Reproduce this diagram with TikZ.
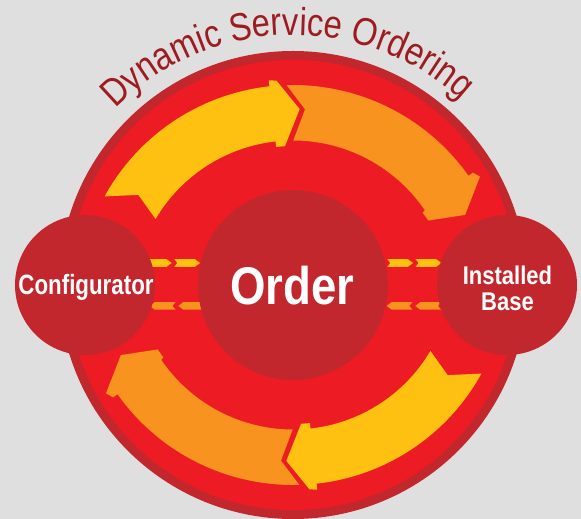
\documentclass[tikz,border=0pt]{standalone}
\usepackage{fontspec}
\usepackage{tikz}
\usetikzlibrary{positioning}
\usetikzlibrary{decorations.text}
\setmainfont{Liberation Sans}
\newfontfamily\titlefont[FakeStretch=0.84]{Liberation Sans}
\newfontfamily\hubfont[FakeStretch=0.86]{Liberation Sans}
\newfontfamily\conffont[FakeStretch=0.80]{Liberation Sans}
\definecolor{bggray}{HTML}{DFDFDF}
\definecolor{ringred}{HTML}{C1272D}
\definecolor{brightred}{HTML}{ED1C24}
\definecolor{arrowyellow}{HTML}{FEC111}
\definecolor{arroworange}{HTML}{F7931E}
\definecolor{titlered}{HTML}{9E1B21}

\begin{document}
\begin{tikzpicture}[x=1pt,y=1pt,
        hub/.style={circle, fill=ringred, inner sep=0pt},
        hubtext/.style={anchor=base, text=white, inner sep=0pt}]
        \useasboundingbox (0,0) rectangle (581,519);
        \fill[bggray] (0,0) rectangle (581,519);
        \coordinate (mid) at (293,234);
        \fill[ringred] (mid) circle (234pt);
        \fill[brightred] (mid) circle (225pt);
        % curved arrows, top pair and its half turn
        \foreach \turn in {0,180}{
            \begin{scope}[rotate around={\turn:(mid)}, shift={(293,219)}]
                \fill[arrowyellow] (151.2:215pt) arc[start angle=151.2, end angle=96.3, radius=215pt]
                    -- (96.3:221pt) -- (94.3:220pt) -- (88:191pt) -- (93:154pt) -- (96.3:154pt)
                    -- (96.3:159.5pt) arc[start angle=96.3, end angle=149.5, radius=159.5pt]
                    -- (145.8:187pt) -- cycle;
                \fill[arroworange] (91.7:215pt) arc[start angle=91.7, end angle=35.3, radius=215pt]
                    -- (35.3:220.5pt) -- (33.4:224pt) -- (26.3:192pt) -- (30.4:157pt) -- (33.9:156.3pt)
                    -- (34.3:159.5pt) arc[start angle=34.3, end angle=89.9, radius=159.5pt]
                    -- (86.4:191pt) -- cycle;
            \end{scope}
        }
        % small chevrons
        \foreach \x in {146,174.3,387.3,415.6}
            \fill[arrowyellow] (\x,259.8) -- ++(20.7,0) -- ++(5,-3.8) -- ++(-5,-3.8)
                -- ++(-20.7,0) -- ++(3,3.8) -- cycle;
        \foreach \x in {204,175.5,412.4,441}
            \fill[arroworange] (\x,216.9) -- ++(-20.7,0) -- ++(-5,-3.8) -- ++(5,-3.8)
                -- ++(20.7,0) -- ++(-3,3.8) -- cycle;
        % hubs
        \node[hub, minimum size=140pt] (conf) at (85,234) {};
        \node[hub, minimum size=190pt] (order) at (mid) {};
        \node[hub, minimum size=140pt] (base) at (507,234) {};
        \node[hubtext, font=\conffont\bfseries\fontsize{27.9}{28}\selectfont]
            (conflabel) at ([xshift=1pt,yshift=-10pt]conf.center) {Configurator};
        \node[hubtext, font=\hubfont\bfseries\fontsize{53}{53}\selectfont]
            (orderlabel) at ([xshift=-0.5pt,yshift=-20pt]order.center) {Order};
        \node[hubtext, font=\hubfont\bfseries\fontsize{25.6}{26}\selectfont]
            (instlabel) at ([xshift=0.5pt,yshift=0.7pt]base.center) {Installed};
        \node[hubtext, font=\hubfont\bfseries\fontsize{25.6}{26}\selectfont]
            (baselabel) at ([yshift=-26.4pt]instlabel.base) {Base};
        % title on the arc
        \path[decorate, decoration={text along path,
                text={|\titlefont\fontsize{39}{39}\selectfont|Dynamic Service Ordering},
                text color=titlered, text align=center}]
            ([shift={(181.5:250pt)}]mid) arc[start angle=181.5, end angle=1.5, radius=250pt];
    \end{tikzpicture}
\end{document}
